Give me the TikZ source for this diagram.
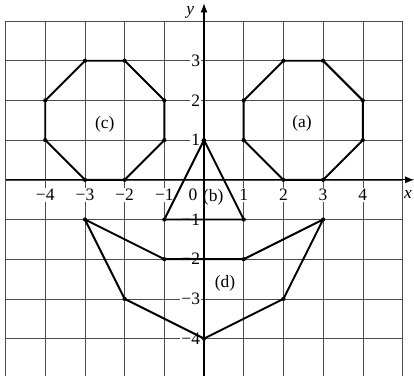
\documentclass[tikz,border=0pt]{standalone}
\usepackage{fontspec}
\setmainfont{Liberation Serif}
\usetikzlibrary{arrows.meta}

\begin{document}
\begin{tikzpicture}[>=Latex,font=\fontsize{12.5}{14}\selectfont,
  tick/.style={fill=white,inner sep=1pt},
  figline/.style={line width=1.4pt,line join=round}]
\useasboundingbox (-5.14,-4.94) rectangle (5.29,4.53);
% grid
\foreach \x in {-5,...,5}
  \draw[gray!60!black,thin] (\x,-4.94) -- (\x,4);
\foreach \y in {-4,...,4}
  \draw[gray!60!black,thin] (-5,\y) -- (5,\y);
% ticks
\foreach \x/\t in {-4/−4,-3/−3,-2/−2,-1/−1,1/1,2/2,3/3,4/4}
  \node[tick] (tx\x) at (\x,-0.38) {\t};
\node[tick] (t0) at (-0.28,-0.38) {0};
\foreach \y/\t in {-4/−4,-3/−3,-2/−2,-1/−1,1/1,2/2,3/3}
  \node[tick,anchor=east] (ty\y) at (-0.06,\y) {\t};
% axes
\draw[line width=0.8pt,->] (-5,0) -- (5.3,0);
\draw[line width=0.8pt,->] (0,-4.94) -- (0,4.45);
\node (xl) at (5.14,-0.38) {\textit{x}};
\node (yl) at (-0.35,4.23) {\textit{y}};
% (c)
\coordinate (C1) at (-3,3);
\coordinate (C2) at (-2,3);
\coordinate (C3) at (-1,2);
\coordinate (C4) at (-1,1);
\coordinate (C5) at (-2,0);
\coordinate (C6) at (-3,0);
\coordinate (C7) at (-4,1);
\coordinate (C8) at (-4,2);
\draw[figline] (C1)--(C2)--(C3)--(C4)--(C5)--(C6)--(C7)--(C8)--cycle;
% (a)
\coordinate (A1) at (2,3);
\coordinate (A2) at (3,3);
\coordinate (A3) at (4,2);
\coordinate (A4) at (4,1);
\coordinate (A5) at (3,0);
\coordinate (A6) at (2,0);
\coordinate (A7) at (1,1);
\coordinate (A8) at (1,2);
\draw[figline] (A1)--(A2)--(A3)--(A4)--(A5)--(A6)--(A7)--(A8)--cycle;
% (b)
\coordinate (B1) at (0,1);
\coordinate (B2) at (1,-1);
\coordinate (B3) at (-1,-1);
\draw[figline] (B1)--(B2)--(B3)--cycle;
% (d)
\coordinate (D1) at (-3,-1);
\coordinate (D2) at (-1,-2);
\coordinate (D3) at (1,-2);
\coordinate (D4) at (3,-1);
\coordinate (D5) at (2,-3);
\coordinate (D6) at (0,-4);
\coordinate (D7) at (-2,-3);
\draw[figline] (D1)--(D2)--(D3)--(D4)--(D5)--(D6)--(D7)--cycle;
% vertices
\foreach \p in {C1,C2,C3,C4,C5,C6,C7,C8,A1,A2,A3,A4,A5,A6,A7,A8,B1,B2,B3,D1,D2,D3,D4,D5,D6,D7}
  \fill (\p) circle (1.5pt);
% labels
\node (lc) at (-2.5,1.4) {(c)};
\node (la) at (2.47,1.43) {(a)};
\node (lb) at (0.23,-0.45) {(b)};
\node (ld) at (0.53,-2.6) {(d)};
\end{tikzpicture}
\end{document}
